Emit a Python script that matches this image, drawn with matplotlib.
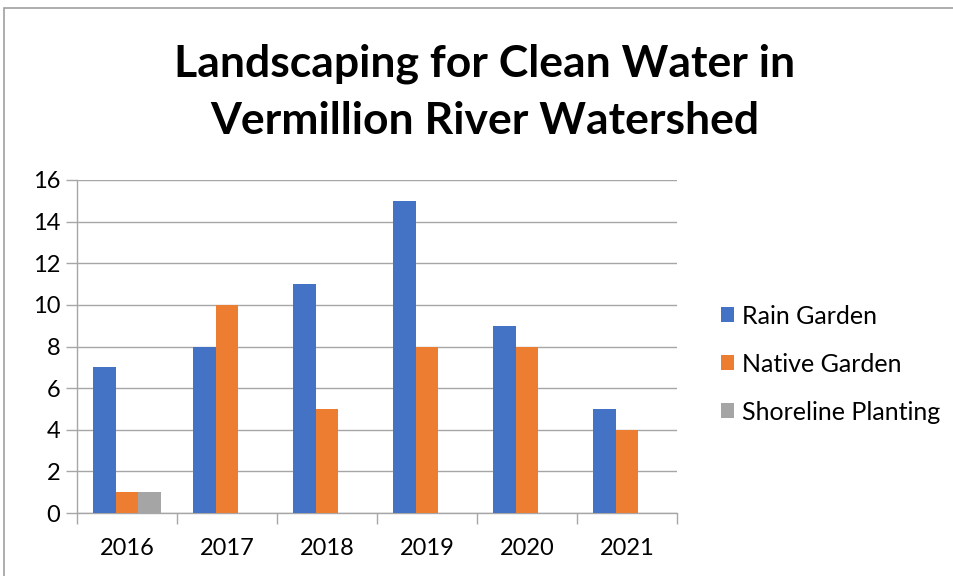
import matplotlib.pyplot as plt
import numpy as np
from matplotlib.patches import Rectangle

years = ["2016", "2017", "2018", "2019", "2020", "2021"]
rain_garden = [7, 8, 11, 15, 9, 5]
native_garden = [1, 10, 5, 8, 8, 4]
shoreline_planting = [1, 0, 0, 0, 0, 0]

series = [("Rain Garden", rain_garden, "#4472C4"),
          ("Native Garden", native_garden, "#ED7D31"),
          ("Shoreline Planting", shoreline_planting, "#A5A5A5")]

plt.rcParams['font.family'] = ['Lato', 'DejaVu Sans']

fig = plt.figure(figsize=(9.54, 5.76), dpi=100)
# outer chart border
fig.patches.append(Rectangle((4 / 954, -0.1), 1.2, 1 - 8 / 576 + 0.1, transform=fig.transFigure,
                             fill=False, edgecolor="#a0a0a0", linewidth=1.2))

ax = fig.add_axes([77 / 954, 1 - 513 / 576, 600 / 954, 333 / 576])

x = np.arange(len(years))
w = 0.225
for i, (name, vals, col) in enumerate(series):
    ax.bar(x + (i - 1) * w, vals, width=w, color=col, label=name, zorder=3)

ax.set_xlim(-0.5, len(years) - 0.5)
ax.set_ylim(0, 16)
ax.set_yticks(range(0, 17, 2))
ax.set_xticks(x)
ax.set_xticklabels(years)
ax.set_xticks(np.arange(-0.5, len(years)), minor=True)
ax.grid(axis="y", color="#a6a6a6", linewidth=1, zorder=0)
for s in ["top", "right"]:
    ax.spines[s].set_visible(False)
for s in ["left", "bottom"]:
    ax.spines[s].set_color("#a6a6a6")
    ax.spines[s].set_linewidth(1)
ax.tick_params(axis="x", which="major", length=0, labelsize=17, pad=18)
ax.tick_params(axis="x", which="minor", length=8, color="#a6a6a6", width=1)
ax.tick_params(axis="y", length=8, color="#a6a6a6", width=1, labelsize=17, pad=4)

fig.text(485 / 954, 1 - 92 / 576, "Landscaping for Clean Water in\nVermillion River Watershed",
         ha="center", va="center", fontsize=32, fontweight="bold", linespacing=1.5)

fig.legend(loc="center left", bbox_to_anchor=(699 / 954, 1 - 364 / 576), frameon=False,
           fontsize=18, handlelength=0.52, handleheight=0.52, handletextpad=0.3, labelspacing=1.0)

fig.savefig("out.png", dpi=100)
